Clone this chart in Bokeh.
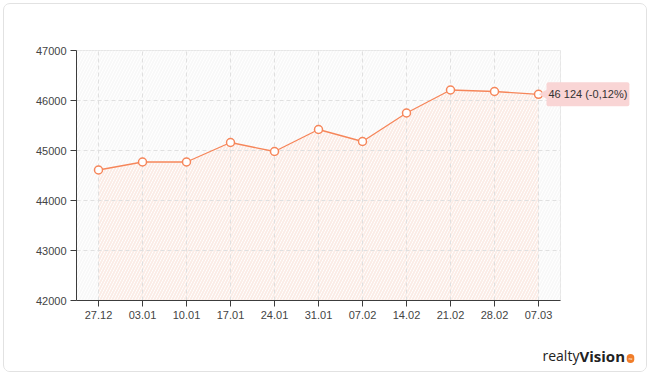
import math
from bokeh.plotting import figure
from bokeh.models import FactorRange, Range1d, FixedTicker, BoxAnnotation, Label, ColumnDataSource
from bokeh.transform import dodge
from bokeh.embed import file_html
from bokeh.resources import INLINE

categories = ["27.12", "03.01", "10.01", "17.01", "24.01", "31.01",
              "07.02", "14.02", "21.02", "28.02", "07.03"]
values = [44610, 44770, 44770, 45160, 44980, 45420, 45180, 45750, 46210, 46180, 46124]
y_ticks = [42000, 43000, 44000, 45000, 46000, 47000]

LINE = "#f6865a"
FONT = "Liberation Sans"

# geometry of the chart on the page
PAGE_W, PAGE_H = 650, 375
FRAME_L, FRAME_T, FRAME_W, FRAME_H = 76, 50, 484, 250

p = figure(x_range=FactorRange(factors=categories),
           y_range=Range1d(y_ticks[0], y_ticks[-1]),
           frame_width=FRAME_W, frame_height=FRAME_H,
           min_border_left=72, min_border_right=86,
           min_border_top=46, min_border_bottom=71,
           output_backend="svg", toolbar_location=None)
p.styles = {"margin-left": "3px", "margin-top": "3px",
            "border": "1px solid #e2e2e2", "border-radius": "7px",
            "overflow": "hidden"}

p.background_fill_color = "#f8f8f8"
p.border_fill_color = "white"
p.outline_line_color = "#e6e6e6"

bg = BoxAnnotation(fill_color=None, line_color=None, hatch_pattern="/",
                   hatch_color="white", hatch_scale=6, hatch_weight=1, level="image")
p.add_layout(bg)

base = [y_ticks[0]] * len(values)
p.varea(x=categories, y1=base, y2=values, fill_color="#fbece6",
        hatch_pattern="/", hatch_color="#f9e5dc", hatch_scale=6, hatch_weight=1,
        level="image")

for g in (p.xgrid, p.ygrid):
    g.grid_line_color = "#e0e0e0"
    g.grid_line_dash = "4 3"
    g.grid_line_width = 1

p.line(categories, values, line_color=LINE, line_width=1.3)
p.scatter(categories, values, size=8, fill_color="white", line_color=LINE, line_width=1.5)

# tooltip pointer
src = ColumnDataSource(dict(x=[categories[-1]], y=[values[-1]]))
p.scatter(x=dodge("x", 0.15, range=p.x_range), y="y", source=src, marker="triangle",
          angle=math.pi / 2, size=11, fill_color="#f9d5d5", line_color=None)

p.yaxis.ticker = FixedTicker(ticks=y_ticks)
for ax in (p.xaxis, p.yaxis):
    ax.axis_line_color = "#3c3c3c"
    ax.major_tick_line_color = "#3c3c3c"
    ax.major_tick_in = 0
    ax.major_tick_out = 6
    ax.minor_tick_line_color = None
    ax.major_label_text_font = FONT
    ax.major_label_text_font_size = "11px"
    ax.major_label_text_color = "#444444"
p.xaxis.major_label_standoff = 4
p.yaxis.major_label_standoff = 4

# transparent overlay sharing the chart's data coordinates, over the whole page,
# so that texts may extend beyond the plot frame
px_x = len(categories) / FRAME_W
px_y = (y_ticks[-1] - y_ticks[0]) / FRAME_H
ov = figure(width=PAGE_W, height=PAGE_H,
            x_range=Range1d(-FRAME_L * px_x, (PAGE_W - FRAME_L) * px_x),
            y_range=Range1d(y_ticks[0] - (PAGE_H - FRAME_T - FRAME_H) * px_y,
                            y_ticks[-1] + FRAME_T * px_y),
            min_border=0, x_axis_location=None, y_axis_location=None,
            output_backend="svg", toolbar_location=None)
ov.grid.visible = False
ov.outline_line_color = None
ov.background_fill_alpha = 0
ov.border_fill_alpha = 0
ov.styles = {"position": "absolute", "left": "0px", "top": "0px"}

last_x = len(categories) - 0.5
pct = (values[-1] - values[-2]) / values[-2] * 100
txt = f"{values[-1]:,}".replace(",", " ") + " (" + f"{pct:.2f}".replace(".", ",") + "%)"
ov.add_layout(Label(x=last_x, y=values[-1], x_offset=8, text=txt,
                    text_align="left", text_baseline="middle",
                    text_font=FONT, text_font_size="11px", text_color="#333333",
                    background_fill_color="#f9d5d5", padding=(2, 6), border_radius=2))

# logo
ov.add_layout(Label(x=last_x, y=y_ticks[0], x_offset=4, y_offset=-55,
                    text="realty", text_font="Open Sans", text_font_size="14px",
                    text_color="#222222", text_baseline="alphabetic"))
ov.add_layout(Label(x=last_x, y=y_ticks[0], x_offset=41, y_offset=-55,
                    text="Vision", text_font="Open Sans", text_font_size="15px",
                    text_font_style="bold", text_color="#222222", text_baseline="alphabetic"))
ov.add_layout(Label(x=last_x, y=y_ticks[0], x_offset=92, y_offset=-58,
                    text="ru", text_font=FONT, text_font_size="4px",
                    text_color="white", text_align="center", text_baseline="middle",
                    background_fill_color="#f07d2a", padding=(2, 2), border_radius=4))

open("out.html", "w").write(file_html([p, ov], INLINE))
